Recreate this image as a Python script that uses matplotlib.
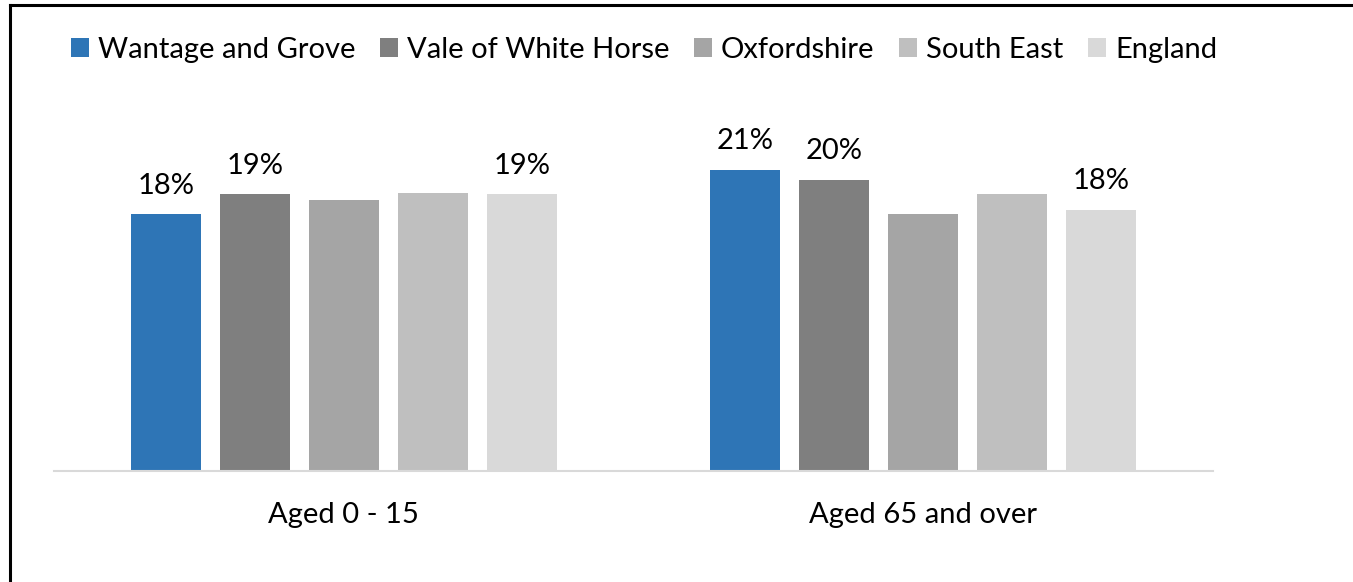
import matplotlib.pyplot as plt
import numpy as np
from matplotlib.lines import Line2D

# data (percent of population)
categories = ["Aged 0 - 15", "Aged 65 and over"]
areas = ["Wantage and Grove", "Vale of White Horse", "Oxfordshire", "South East", "England"]
wantage = [18.0, 21.1]
vale = [19.4, 20.4]
oxon = [19.0, 18.0]
south_east = [19.5, 19.4]
england = [19.4, 18.3]
labelled = [True, True, False, False, True]  # only some series carry data labels

colors = ["#2E75B6", "#7F7F7F", "#A5A5A5", "#BFBFBF", "#D9D9D9"]
series = [wantage, vale, oxon, south_east, england]

plt.rcParams['font.family'] = ['Lato', 'DejaVu Sans']

fig = plt.figure(figsize=(13.53, 5.82), dpi=100)
ax = fig.add_axes([0.0399, 0.1907, 0.8566, 0.6134])

x = np.arange(len(categories))
width = 0.1208
step = 0.1536
handles = []
for i, vals in enumerate(series):
    pos = x + (i - 2) * step
    b = ax.bar(pos, vals, width=width, color=colors[i], label=areas[i])
    handles.append(b)
    if labelled[i]:
        for px, v in zip(pos, vals):
            ax.annotate("%d%%" % round(v), (px, v), xytext=(0, 11), textcoords="offset points",
                        ha="center", va="bottom", fontsize=21)

ax.set_xlim(-0.5, 1.5)
ax.set_ylim(0, 25)
ax.set_xticks(x)
ax.set_xticklabels(categories, fontsize=21)
ax.tick_params(axis="x", length=0, pad=22)
ax.set_yticks([])
for s in ["top", "right", "left"]:
    ax.spines[s].set_visible(False)
ax.spines["bottom"].set_color("#D9D9D9")
ax.spines["bottom"].set_linewidth(1.5)

fig.legend(handles=handles, loc="center", bbox_to_anchor=(0.476, 0.914), ncol=5, frameon=False,
           fontsize=21, handlelength=0.62, handleheight=0.62, handletextpad=0.3, columnspacing=0.85)

# border lines (left and top) of the cropped chart frame
fig.add_artist(Line2D([0.0074, 0.0074], [0, 0.991], color="black", lw=2.2, transform=fig.transFigure))
fig.add_artist(Line2D([0.0074, 1.0], [0.991, 0.991], color="black", lw=2.2, transform=fig.transFigure))

fig.savefig("out.png", dpi=100)
